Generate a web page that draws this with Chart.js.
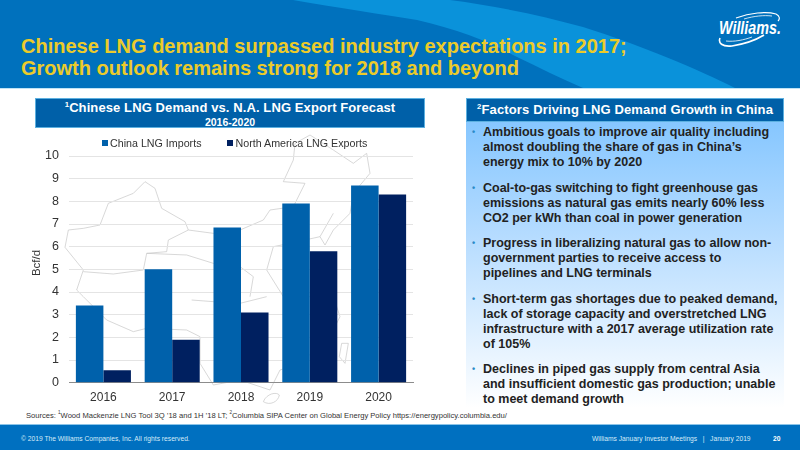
<!DOCTYPE html>
<html>
<head>
<meta charset="utf-8">
<title>Chinese LNG demand</title>
<script src="https://cdn.jsdelivr.net/npm/chart.js@4/dist/chart.umd.min.js"></script>
<style>
html, body { margin: 0; padding: 0; }
body { width: 800px; height: 450px; overflow: hidden; background: #fff; font-family: "Liberation Sans", Arial, sans-serif; position: relative; }
.abs { position: absolute; }
#header { left: 0; top: 0; width: 800px; height: 88px; background: #0071bd; overflow: hidden; border-bottom: 1px solid #bfe3f5; }
#title { left: 21px; top: 35px; font-size: 20px; line-height: 22px; font-weight: bold; color: #eccb2a; white-space: nowrap; }
#logo { left: 700px; top: 5px; }
#chartHead { left: 35px; top: 98px; width: 388px; height: 28px; background: #0060a8; border: 1px solid #5cb0e0; color: #fff; text-align: center; font-weight: bold; }
#chartHead .l1 { font-size: 13px; line-height: 16px; padding-top: 1px; letter-spacing: 0.1px; }
#chartHead .l2 { font-size: 10.5px; line-height: 12px; }
#panel { left: 466px; top: 98px; width: 318px; height: 310px; background: linear-gradient(#7cc2ff 0%, #b6dcff 45%, #ffffff 100%); }
#panelHead { left: 0; top: 0; width: 316px; height: 22px; background: #0060a8; border: 1px solid #5cb0e0; color: #fff; font-weight: bold; font-size: 13px; line-height: 22px; text-align: center; letter-spacing: 0.15px; white-space: nowrap; }
#factors { left: 0; top: 27px; margin: 0; padding: 0; list-style: none; font-size: 12.5px; line-height: 15px; font-weight: bold; color: #222; }
#factors li { position: relative; padding-left: 17px; margin-bottom: 10.5px; white-space: nowrap; }
#factors li::before { content: "\2022"; position: absolute; left: 6px; font-size: 9px; color: #2a8ac8; }
sup { font-size: 60%; line-height: 0; }
#sources { left: 26px; top: 411px; font-size: 7.6px; color: #333; white-space: nowrap; }
#footer { left: 0; top: 424px; width: 800px; height: 26px; background: #0070c0; border-top: 1px solid #8cc4e8; box-sizing: border-box; color: #d6ebf8; font-size: 6.7px; }
#footer div { position: absolute; top: 10px; white-space: nowrap; }
#map { left: 0; top: 130px; }
#chartBox { left: 30px; top: 130px; width: 400px; height: 277px; }
#legend { left: 102px; top: 137px; font-size: 10.7px; line-height: 13px; color: #333; white-space: nowrap; }
#legend span { display: inline-block; }
#legend .swatch { width: 6px; height: 6px; margin-right: 2px; position: relative; top: -1px; }
#legend .entry { margin-right: 26px; }
</style>
</head>
<body>
<div id="header" class="abs">
  <svg width="800" height="88" class="abs" style="left:0;top:0">
    <path d="M293 0 C340 8 380 14 417 20 C460 30 490 42 517 57 C540 68 560 78 583 88 H735 C700 70 640 45 583 27 C540 15 495 6 450 0 Z" fill="#0a92da"></path>
  </svg>
  <div id="title" class="abs">Chinese LNG demand surpassed industry expectations in 2017;<br>Growth outlook remains strong for 2018 and beyond</div>
  <svg id="logo" class="abs" width="100" height="50">
    <path d="M36 13 C50 8 66 6 76 9 C80 11 80 14 78 16" fill="none" stroke="#fff" stroke-width="1.2"></path>
    <path d="M44 14 C54 11 64 10 72 11" fill="none" stroke="#fff" stroke-width="0.8"></path>
    <path d="M20 33 C18 38 22 42 32 41 C44 39 56 35 64 30" fill="none" stroke="#fff" stroke-width="1.6"></path>
    <path d="M26 36 C34 37 44 35 52 32" fill="none" stroke="#fff" stroke-width="0.8"></path>
    <text x="19" y="29" font-family="Liberation Sans" font-size="18" font-weight="bold" font-style="italic" fill="#fff" textLength="62" lengthAdjust="spacingAndGlyphs">Williams.</text>
  </svg>
</div>

<svg id="map" class="abs" width="450" height="280" viewBox="0 0 1350 840" fill="none" stroke="#c4c4c4" stroke-width="2">
  <path d="M195 352 L205 300 L250 295 L300 285 L325 220 L400 190 L435 155 L465 175 L485 235 L555 275 L565 300 L640 310 L720 300 L790 270 L810 240 L880 230 L915 160 L850 155 L880 90 L885 40 L930 15 L1000 60 L1060 100 L1100 70 L1110 130 L1060 190 L1050 250 L1000 300 L975 345 L960 320 L870 340 L820 350 L800 420 L850 500 L1000 500 L1020 560 L990 620 L900 700 L840 720 L810 780 L720 750 L640 765 L600 700 L600 620 L560 600 L440 595 L400 605 L320 570 L250 500 L230 480 L250 420 Z"></path>
  <path d="M250 425 L340 432 L430 420 L440 370 L500 365 L505 330 L565 300 M440 370 L560 375 L640 400 L720 410 L760 440 L750 500 M575 510 L640 515 L720 520 L800 500 M960 320 L1000 250"></path>
  <path d="M790 815 C800 790 830 785 838 795 C835 815 810 828 790 815 Z M1025 640 L1045 640 L1035 700 L1018 680 Z"></path>
</svg>

<div id="chartHead" class="abs">
  <div class="l1"><sup>1</sup>Chinese LNG Demand vs. N.A. LNG Export Forecast</div>
  <div class="l2">2016-2020</div>
</div>

<div id="chartBox" class="abs"><canvas id="lng_chart"></canvas></div>
<div id="legend" class="abs"></div>

<div id="panel" class="abs">
  <div id="panelHead" class="abs"><sup>2</sup>Factors Driving LNG Demand Growth in China</div>
  <ul id="factors" class="abs">
    <li>Ambitious goals to improve air quality including<br>almost doubling the share of gas in China&#8217;s<br>energy mix to 10% by 2020</li>
    <li>Coal-to-gas switching to fight greenhouse gas<br>emissions as natural gas emits nearly 60% less<br>CO2 per kWh than coal in power generation</li>
    <li>Progress in liberalizing natural gas to allow non-<br>government parties to receive access to<br>pipelines and LNG terminals</li>
    <li>Short-term gas shortages due to peaked demand,<br>lack of storage capacity and overstretched LNG<br>infrastructure with a 2017 average utilization rate<br>of 105%</li>
    <li>Declines in piped gas supply from central Asia<br>and insufficient domestic gas production; unable<br>to meet demand growth</li>
  </ul>
</div>

<div id="sources" class="abs">Sources: <sup>1</sup>Wood Mackenzie LNG Tool 3Q &#8217;18 and 1H &#8217;18 LT; <sup>2</sup>Columbia SIPA Center on Global Energy Policy https://energypolicy.columbia.edu/</div>

<div id="footer" class="abs">
  <div style="left:21px">&copy; 2019 The Williams Companies, Inc. All rights reserved.</div>
  <div style="left:592px">Williams January Investor Meetings &nbsp; | &nbsp; January 2019</div>
  <div style="left:773px;font-weight:bold;color:#fff">20</div>
</div>

<script>
const years = ["2016", "2017", "2018", "2019", "2020"];
const chinaImports = [3.4, 5.0, 6.85, 7.9, 8.7];
const northAmericaExports = [0.55, 1.9, 3.1, 5.8, 8.3];

const tickColor = "#333333";
Chart.defaults.font.family = '"Liberation Sans", Arial, sans-serif';

let ctx = document.getElementById("lng_chart").getContext("2d");
let chart = new Chart(ctx, {
    type: "bar",
    data: {
        labels: years,
        datasets: [
            {
                label: "China LNG Imports",
                data: chinaImports,
                backgroundColor: "#0061ab",
                categoryPercentage: 0.8,
                barPercentage: 1
            },
            {
                label: "North America LNG Exports",
                data: northAmericaExports,
                backgroundColor: "#002060",
                categoryPercentage: 0.8,
                barPercentage: 1
            }
        ]
    },
    options: {
        responsive: true,
        maintainAspectRatio: false,
        animation: false,
        layout: {
            padding: { top: 26, right: 17, bottom: 0, left: 0 }
        },
        scales: {
            x: {
                grid: { display: false },
                border: { color: "#8c8c8c", width: 1 },
                ticks: { color: tickColor, font: { size: 12 }, padding: 0 },
                afterFit: function (scale) { scale.height = 24.3; }
            },
            y: {
                min: 0,
                max: 10,
                grid: { color: "#e4e4e4", drawTicks: false },
                border: { display: false },
                ticks: { stepSize: 1, color: tickColor, font: { size: 12.5 }, padding: 10 },
                title: {
                    display: true,
                    text: "    Bcf/d",
                    color: tickColor,
                    font: { size: 11.5 },
                    padding: 0
                },
                afterFit: function (scale) { scale.width = 39; }
            }
        },
        plugins: {
            tooltip: { enabled: false },
            legend: { display: false }
        }
    }
});

// legend sits left of the plot centre in the original, so it is built by hand from the datasets
let legendBox = document.getElementById("legend");
chart.data.datasets.forEach(function (ds) {
    let swatch = document.createElement("span");
    swatch.className = "swatch";
    swatch.style.background = ds.backgroundColor;
    let entry = document.createElement("span");
    entry.className = "entry";
    entry.textContent = ds.label;
    legendBox.appendChild(swatch);
    legendBox.appendChild(entry);
});
</script>
</body>
</html>
